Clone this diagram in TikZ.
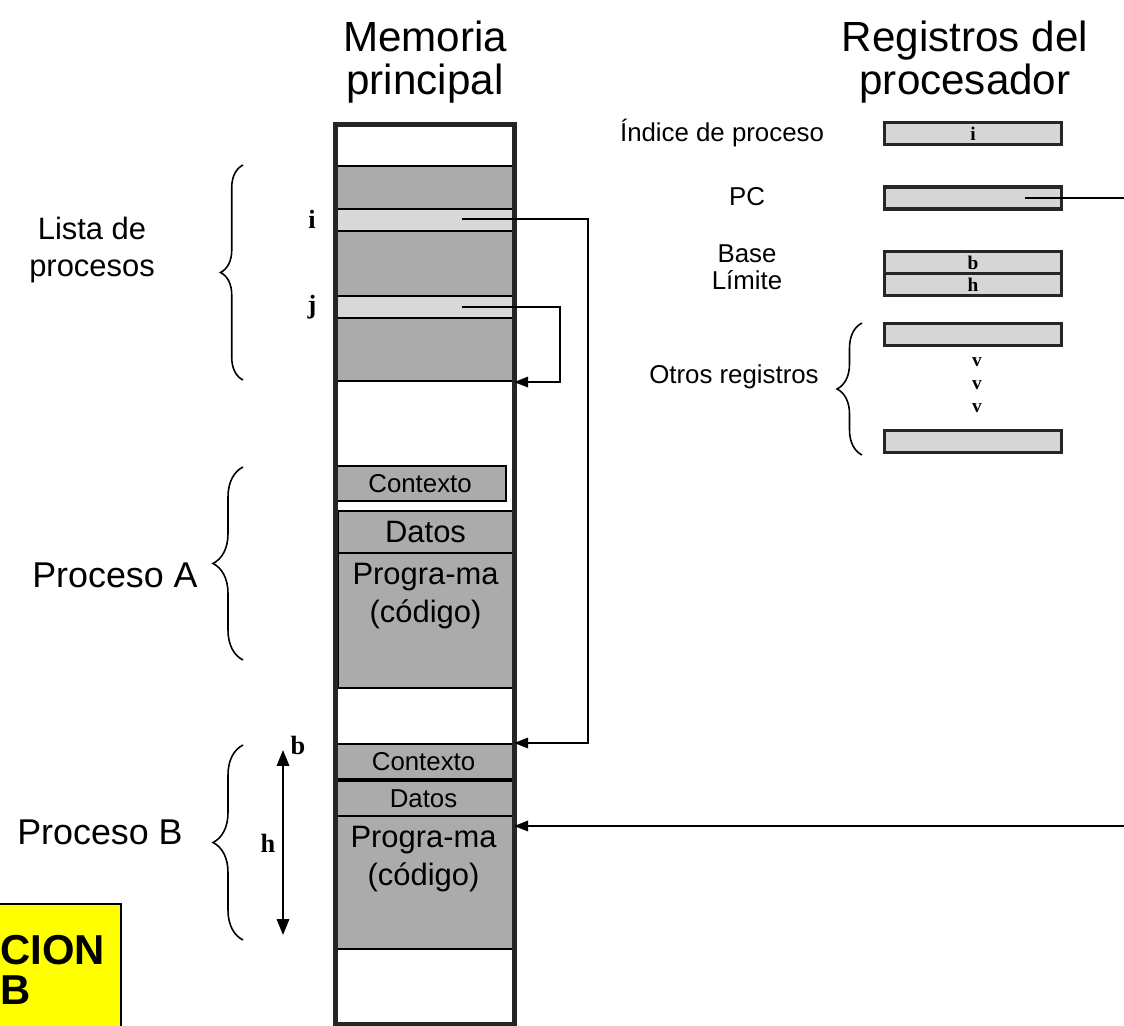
\documentclass[tikz,border=0pt]{standalone}
\usepackage{fontspec}
\setmainfont{Liberation Sans}
\newfontfamily\lbfont{Liberation Serif}
\usepackage{tikz}
\usetikzlibrary{positioning, decorations.pathreplacing, arrows.meta, calc}
\definecolor{memgray}{RGB}{171, 171, 171}
\definecolor{memlight}{RGB}{216, 216, 216}
\definecolor{reggray}{RGB}{214, 214, 214}
\definecolor{notayellow}{RGB}{255, 255, 0}

\tikzset{
    blk/.style={draw=black, line width=1.2pt, fill=memgray, minimum width=3.58cm, inner sep=0pt, anchor=north west},
    reg/.style={draw=black!85, line width=1.8pt, fill=reggray, minimum width=3.55cm, minimum height=0.44cm, inner sep=0pt, font=\lbfont\bfseries\fontsize{11}{11}\selectfont},
    ptr/.style={line width=1pt, -{Triangle[length=8pt, width=6pt]}},
    llave/.style={decorate, decoration={brace, amplitude=#1}, line width=0.9pt},
    marca/.style={font=\lbfont\bfseries\fontsize{15}{15}\selectfont, inner sep=0pt},
    puntos/.style={font=\lbfont\bfseries\fontsize{11}{11}\selectfont, inner sep=0pt},
}

\begin{document}
\begin{tikzpicture}[x=0.02cm, y=-0.02cm]
        \useasboundingbox (0,0) rectangle (1124,1026);

        % titulos
        \node[align=center, font=\fontsize{24}{24.5}\selectfont] (memT) at (425,62) {Memoria\\principal};
        \node[align=center, font=\fontsize{24}{24.5}\selectfont] (regT) at (965,62) {Registros del\\procesador};

        % memoria principal
        \node[blk, minimum height=4.3cm] (lista) at (333,165) {};
        \node[blk, fill=memlight, minimum height=0.44cm] (iblk) at (333,208) {};
        \node[blk, fill=memlight, minimum height=0.44cm] (jblk) at (333,295) {};
        \node[blk, minimum width=3.44cm, minimum height=0.7cm, font=\fontsize{14.7}{15}\selectfont] (ctxA) at (333,465) {Contexto};
        \node[blk, minimum width=3.5cm, minimum height=0.84cm, font=\fontsize{17.6}{18}\selectfont] (datA) at (337,510) {Datos};
        \node[blk, minimum width=3.5cm, minimum height=2.7cm] (prgA) at (337,552) {};
        \node[align=center, anchor=north, font=\fontsize{17.6}{21.5}\selectfont] (prgAtxt) at ([yshift=-3pt]prgA.north) {Progra-ma\\(código)};
        \node[blk, minimum height=0.7cm, font=\fontsize{14.7}{15}\selectfont] (ctxB) at (333,743) {Contexto};
        \node[blk, minimum height=0.7cm, font=\fontsize{14.7}{15}\selectfont] (datB) at (333,780) {Datos};
        \node[blk, minimum height=2.66cm] (prgB) at (333,815) {};
        \node[align=center, anchor=north, font=\fontsize{17.6}{21.5}\selectfont] (prgBtxt) at ([yshift=-3pt]prgB.north) {Progra-ma\\(código)};
        \node[draw=black!85, line width=3pt, minimum width=3.58cm, minimum height=18cm, inner sep=0pt, anchor=north west] (col) at (333,122) {};

        \node[marca] (ilab) at (312,219) {i};
        \node[marca] (jlab) at (312,307) {j};

        % punteros
        \coordinate (iptr) at (462,219);
        \coordinate (icorner) at (588,219);
        \coordinate (jptr) at (462,307);
        \coordinate (jcorner) at (560,307);
        \draw[ptr] (iptr) -- (icorner) |- (ctxB.north east);
        \draw[ptr] (jptr) -- (jcorner) |- (lista.south east);

        % llaves
        \draw[llave=0.45cm] (243,380) -- (243,165);
        \node[align=center, font=\fontsize{17.6}{21.5}\selectfont] (listaT) at (92,250) {Lista de\\procesos};
        \draw[llave=0.6cm] (243,660) -- (243,467);
        \node[font=\fontsize{20.4}{22}\selectfont] (procA) at (115,575) {Proceso A};
        \draw[llave=0.6cm] (243,940) -- (243,745);
        \node[font=\fontsize{20.4}{22}\selectfont] (procB) at (100,832) {Proceso B};

        % base y limite
        \coordinate (hsup) at (283,750);
        \coordinate (hinf) at (283,935);
        \draw[line width=1.2pt, {Triangle[length=9pt, width=7pt]}-{Triangle[length=9pt, width=7pt]}] (hsup) -- (hinf);
        \node[marca] (blab) at (298,745) {b};
        \node[marca] (hlab) at (268,843) {h};

        % registros
        \node[reg] (rIdx) at (973,133.5) {i};
        \node[reg] (rPC) at (973,198) {};
        \node[reg] (rBase) at (973,262.5) {b};
        \node[reg] (rLim) at (973,284.5) {h};
        \node[reg] (rOtr1) at (973,334.5) {};
        \node[reg] (rOtr2) at (973,441.5) {};
        \foreach \y in {362,385,408}
            \node[puntos] (v\y) at (977,\y) {v};

        \node[font=\fontsize{14.7}{15.3}\selectfont] (idxT) at (722,133) {Índice de proceso};
        \node[font=\fontsize{14.7}{15.3}\selectfont] (pcT) at (747,197) {PC};
        \node[align=center, font=\fontsize{14.7}{15.3}\selectfont] (blT) at (747,267) {Base\\Límite};
        \node[font=\fontsize{14.7}{15.3}\selectfont] (otrT) at (734,377) {Otros registros};
        \draw[llave=0.5cm] (862,455) -- (862,323);

        % contador de programa
        \coordinate (pcptr) at (1025,198);
        \coordinate (pcfuera) at (1124,198);
        \coordinate (progfuera) at (1124,826);
        \draw[line width=1pt] (pcptr) -- (pcfuera);
        \draw[ptr] (progfuera) -- (progfuera -| prgB.east);

        % nota
        \node[draw, fill=notayellow, line width=1.2pt, minimum width=2.7cm, minimum height=2.8cm, inner sep=0pt, anchor=north east] (ejec) at (122,903) {};
        \node[anchor=north west, align=left, inner sep=0pt, font=\bfseries\fontsize{23.8}{22.7}\selectfont] (ejecT) at (0,935) {CION\\B};
    \end{tikzpicture}
\end{document}
